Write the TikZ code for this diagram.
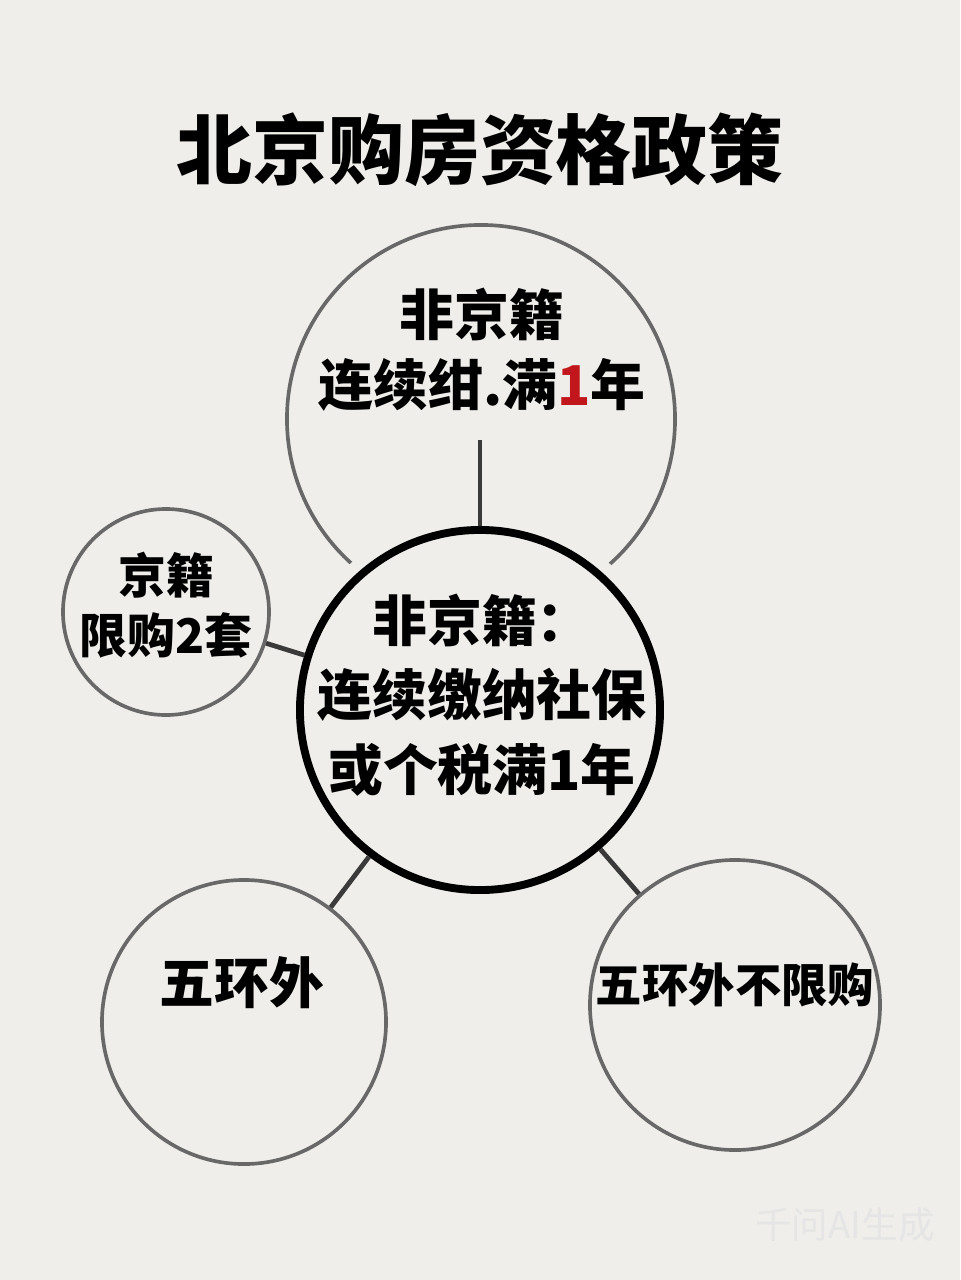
\documentclass[tikz,border=0pt]{standalone}
\usepackage{fontspec}
\setmainfont{Noto Sans CJK SC}[BoldFont={* Black}]
\usepackage{tikz}
\usetikzlibrary{positioning}
\definecolor{paper}{HTML}{EFEEEB}
\definecolor{pencil}{HTML}{686868}
\definecolor{stem}{HTML}{3A3A3A}
\definecolor{mark}{HTML}{C1161C}

\tikzset{
  ring/.style={draw=pencil, line width=2.6pt, circle, inner sep=0pt},
  hubring/.style={draw=black, line width=5.6pt, circle, inner sep=0pt, fill=paper,
    preaction={draw=paper, line width=22pt}},
  link/.style={draw=stem, line width=3.4pt},
  txt/.style={align=center, inner sep=0pt},
}

\begin{document}
\begin{tikzpicture}[x=0.025cm, y=-0.025cm]
    \fill[paper] (0,0) rectangle (960,1280);
    \useasboundingbox (0,0) rectangle (960,1280);

    \node[txt, font=\bfseries\fontsize{54}{60}\selectfont] (title) at (480,150) {北京购房资格政策};

    % circles
    \node[ring, minimum size=9.7cm] (top) at (481,419) {};
    \node[hubring, minimum size=9cm] (hub) at (480,710) {};
    \node[ring, minimum size=5.15cm] (jing) at (166,612) {};
    \node[ring, minimum size=7.1cm] (wuhuan) at (244,1022) {};
    \node[ring, minimum size=7.25cm] (buxian) at (735,1005) {};

    % connectors
    \coordinate (stemtop) at (480,440);
    \draw[link] (stemtop) -- (hub.north);
    \draw[link] (jing) -- (hub);
    \draw[link] (wuhuan) -- (hub);
    \draw[link] (buxian) -- (hub);

    % texts
    \node[txt, font=\bfseries\fontsize{39}{50}\selectfont] (toptxt) at (482,350)
        {非京籍\\连续绀.满\textcolor{mark}{1}年};
    \node[txt, font=\bfseries\fontsize{39}{53}\selectfont] (hubtxt) at (482,695)
        {非京籍：\\连续缴纳社保\\或个税满1年};
    \node[txt, font=\bfseries\fontsize{34}{43}\selectfont] (jingtxt) at (166,605)
        {京籍\\限购2套};
    \node[txt, font=\bfseries\fontsize{39}{45}\selectfont] (wuhuantxt) at (242,983) {五环外};
    \node[txt, font=\bfseries\fontsize{33}{40}\selectfont] (buxiantxt) at (735,985) {五环外不限购};

    \node[txt, text=black!10, font=\fontsize{26}{28}\selectfont] (wm) at (845,1225) {千问AI生成};
\end{tikzpicture}
\end{document}
